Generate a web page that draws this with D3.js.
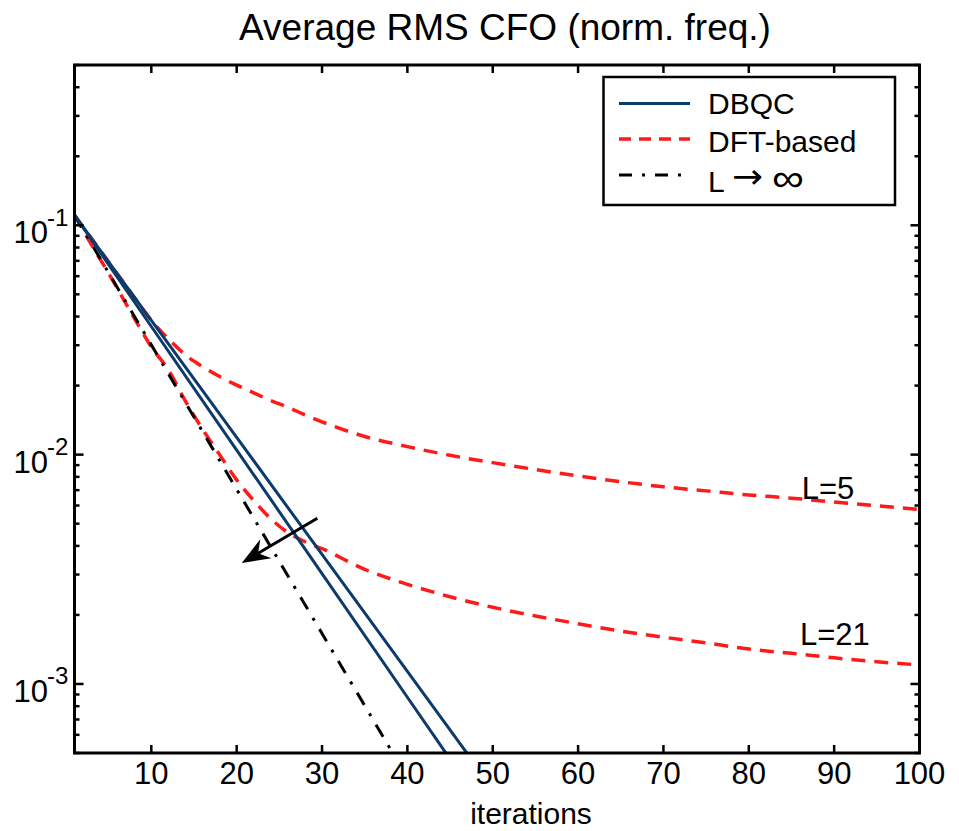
<!DOCTYPE html>
<html>
<head>
<meta charset="utf-8">
<script src="https://cdn.jsdelivr.net/npm/d3@7"></script>
<style>
  html, body { margin: 0; padding: 0; background: #fff; }
  svg { display: block; font-family: Arial, "Liberation Sans", sans-serif; }
</style>
</head>
<body>
<svg id="chart" width="959" height="831"></svg>
<script>
// ---------------- data ----------------
const xDBQC = [1, 10, 20, 30, 40, 50];
const yDBQC_a = [0.1107, 0.0385, 0.01189, 0.00367, 0.001135, 0.00035];   // slower DBQC
const yDBQC_b = [0.1107, 0.0362, 0.01047, 0.00303, 0.000875, 0.000253]; // faster DBQC

const xLinf = [1, 10, 20, 30, 40];
const yLinf = [0.1107, 0.0301, 0.00706, 0.00166, 0.00039];

const xDFT = [1, 3, 5, 8, 10, 12, 14, 16, 18, 20, 22, 24, 26, 28, 30, 35, 40, 45, 50, 55, 60, 65, 70, 75, 80, 85, 90, 95, 100];
const yDFT_L5 = [0.1107, 0.0875, 0.0692, 0.0486, 0.0385, 0.0320, 0.0272, 0.0242, 0.0219, 0.0201, 0.0186, 0.0172, 0.0161, 0.0149, 0.0139, 0.0120, 0.01084, 0.00993, 0.00923, 0.00861, 0.00807, 0.00762, 0.00724, 0.00695, 0.00667, 0.00646, 0.00621, 0.00598, 0.00577];
const yDFT_L21 = [0.1107, 0.0822, 0.0617, 0.0394, 0.0295, 0.0234, 0.0171, 0.0129, 0.0100, 0.00776, 0.00631, 0.00525, 0.00457, 0.00417, 0.00389, 0.00316, 0.00272, 0.00240, 0.00216, 0.00198, 0.00183, 0.00170, 0.00160, 0.00151, 0.00142, 0.00136, 0.00130, 0.00125, 0.00121];

const xTicks = [10, 20, 30, 40, 50, 60, 70, 80, 90, 100];
const yMajor = [0.1, 0.01, 0.001];
const yMajorExp = ["-1", "-2", "-3"];

const legendLabels = ["DBQC", "DFT-based", "L \u2192 \u221E"];
const curveLabels = [{t: "L=5", x: 86.2, y: 0.0064}, {t: "L=21", x: 86.0, y: 0.00148}];
const arrowFrom = {x: 29.45, y: 0.00528};
const arrowTo = {x: 20.6, y: 0.00337};

const titleText = "Average RMS CFO (norm. freq.)";
const xLabel = "iterations";

// ---------------- layout ----------------
const L = 74.5, R = 919.5, T = 65, B = 753;
const blue = "#0c3b6b", red = "#ff1a1a";

const svg = d3.select("#chart");
const x = d3.scaleLinear().domain([1, 100]).range([L, R]);
const y = d3.scaleLog().domain([5e-4, 0.5]).range([B, T]);

svg.append("defs").append("clipPath").attr("id", "clip")
  .append("rect").attr("x", L).attr("y", T).attr("width", R - L).attr("height", B - T);

const plot = svg.append("g").attr("clip-path", "url(#clip)");

const lineStraight = (xs) => d3.line().x((d, i) => x(xs[i])).y(d => y(d));
const lineSmooth = (xs) => d3.line().x((d, i) => x(xs[i])).y(d => y(d)).curve(d3.curveMonotoneX);

// DFT-based curves
[yDFT_L5, yDFT_L21].forEach(ys => {
  plot.append("path").attr("d", lineSmooth(xDFT)(ys))
    .attr("fill", "none").attr("stroke", red).attr("stroke-width", 3.5)
    .attr("stroke-dasharray", "14,9");
});
// L -> inf
plot.append("path").attr("d", lineStraight(xLinf)(yLinf))
  .attr("fill", "none").attr("stroke", "#000").attr("stroke-width", 3)
  .attr("stroke-dasharray", "14,10,3,10");
// DBQC curves
[yDBQC_a, yDBQC_b].forEach(ys => {
  plot.append("path").attr("d", lineStraight(xDBQC)(ys))
    .attr("fill", "none").attr("stroke", blue).attr("stroke-width", 3);
});

// Arrow annotation
{
  const x1 = x(arrowFrom.x), y1 = y(arrowFrom.y), x2 = x(arrowTo.x), y2 = y(arrowTo.y);
  const ang = Math.atan2(y2 - y1, x2 - x1);
  const hl = 28, hw = 11, back = 19;
  const ux = Math.cos(ang), uy = Math.sin(ang);
  const bx = x2 - ux * hl, by = y2 - uy * hl;
  const px = -uy, py = ux;
  const nx = x2 - ux * back, ny = y2 - uy * back;
  svg.append("line").attr("x1", x1).attr("y1", y1).attr("x2", nx).attr("y2", ny)
    .attr("stroke", "#000").attr("stroke-width", 3);
  svg.append("path")
    .attr("d", `M${x2},${y2} L${bx + px * hw},${by + py * hw} L${nx},${ny} L${bx - px * hw},${by - py * hw} Z`)
    .attr("fill", "#000");
}

// Curve labels
curveLabels.forEach(c => {
  svg.append("text").attr("x", x(c.x)).attr("y", y(c.y))
    .attr("font-size", 31).attr("fill", "#000").text(c.t);
});

// ---------------- axes box & ticks ----------------
const axes = svg.append("g").attr("stroke", "#000").attr("stroke-width", 2.5);
xTicks.forEach(v => {
  axes.append("line").attr("x1", x(v)).attr("x2", x(v)).attr("y1", B).attr("y2", B - 8);
  axes.append("line").attr("x1", x(v)).attr("x2", x(v)).attr("y1", T).attr("y2", T + 8);
});
const yMinor = [];
[1e-4, 1e-3, 1e-2, 1e-1].forEach(dec => {
  for (let m = 2; m <= 9; m++) {
    const v = dec * m;
    if (v >= 5e-4 && v <= 0.5) yMinor.push(v);
  }
});
yMinor.forEach(v => {
  axes.append("line").attr("x1", L).attr("x2", L + 5).attr("y1", y(v)).attr("y2", y(v));
  axes.append("line").attr("x1", R).attr("x2", R - 5).attr("y1", y(v)).attr("y2", y(v));
});
yMajor.forEach(v => {
  axes.append("line").attr("x1", L).attr("x2", L + 9).attr("y1", y(v)).attr("y2", y(v));
  axes.append("line").attr("x1", R).attr("x2", R - 9).attr("y1", y(v)).attr("y2", y(v));
});
svg.append("rect").attr("x", L).attr("y", T).attr("width", R - L).attr("height", B - T)
  .attr("fill", "none").attr("stroke", "#000").attr("stroke-width", 3);

// x tick labels
xTicks.forEach(v => {
  svg.append("text").attr("x", x(v)).attr("y", B + 31).attr("text-anchor", "middle")
    .attr("font-size", 31).text(v);
});
// y tick labels
yMajor.forEach((v, i) => {
  svg.append("text").attr("x", 48).attr("y", y(v) + 18).attr("text-anchor", "end")
    .attr("font-size", 31).text("10");
  svg.append("text").attr("x", 47).attr("y", y(v) + 0.5).attr("text-anchor", "start")
    .attr("font-size", 24).text(yMajorExp[i]);
});

// title & x label
svg.append("text").attr("x", 505).attr("y", 39.5).attr("text-anchor", "middle")
  .attr("font-size", 37).text(titleText);
svg.append("text").attr("x", 531).attr("y", 824).attr("text-anchor", "middle")
  .attr("font-size", 30).text(xLabel);

// ---------------- legend ----------------
const lg = svg.append("g");
lg.append("rect").attr("x", 603.5).attr("y", 77).attr("width", 291.5).attr("height", 128)
  .attr("fill", "#fff").attr("stroke", "#000").attr("stroke-width", 2.5);
const legStyles = [
  {stroke: blue, dash: null, w: 3},
  {stroke: red, dash: "12,8", w: 3.5},
  {stroke: "#000", dash: "13,10,3,10", w: 3}
];
const rowY = [103.5, 139, 175];
const textY = [114, 151.5, 191.5];
legendLabels.forEach((lab, i) => {
  const s = legStyles[i];
  const ln = lg.append("line").attr("x1", 619).attr("x2", 690).attr("y1", rowY[i]).attr("y2", rowY[i])
    .attr("stroke", s.stroke).attr("stroke-width", s.w);
  if (s.dash) ln.attr("stroke-dasharray", s.dash);
  if (i === 2) {
    lg.append("text").attr("x", 708).attr("y", textY[i]).attr("font-size", 30).text("L");
    lg.append("text").attr("x", 732).attr("y", 188).attr("font-family", "DejaVu Sans")
      .attr("font-size", 34).attr("textLength", 31).attr("lengthAdjust", "spacingAndGlyphs").text("\u2192");
    lg.append("text").attr("x", 772).attr("y", 191).attr("font-size", 38)
      .attr("textLength", 32).attr("lengthAdjust", "spacingAndGlyphs").text("\u221E");
  } else {
    lg.append("text").attr("x", 708).attr("y", textY[i]).attr("font-size", 30).text(lab);
  }
});
</script>
</body>
</html>
